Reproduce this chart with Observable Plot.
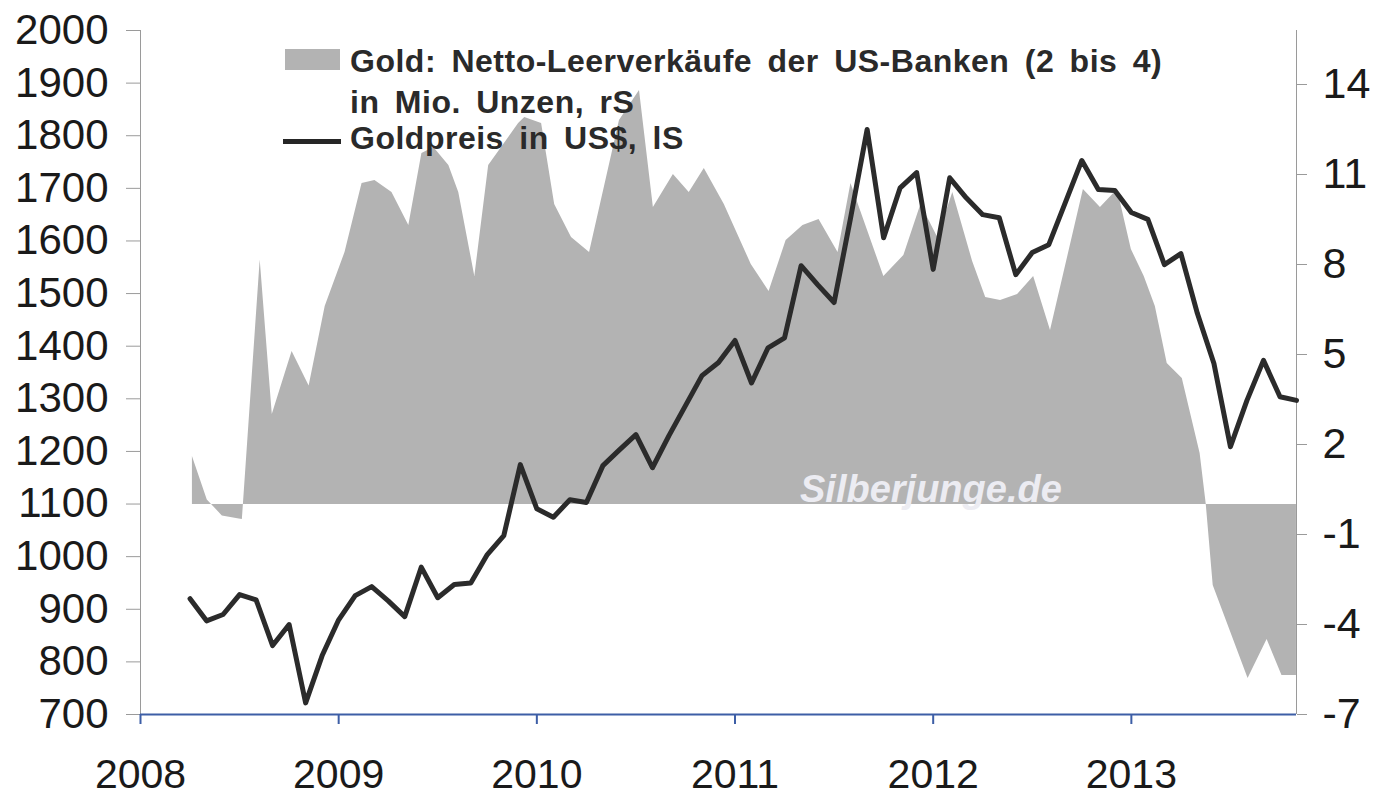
<!DOCTYPE html>
<html>
<head>
<meta charset="utf-8">
<script src="https://cdn.jsdelivr.net/npm/d3@7"></script>
<script src="https://cdn.jsdelivr.net/npm/@observablehq/plot@0.6"></script>
<style>
  body { margin: 0; background: #fff; }
  #wrap { position: relative; width: 1382px; height: 804px; font-family: "Liberation Sans", Arial, sans-serif; }
  .leg { position: absolute; left: 350px; font-weight: bold; font-size: 32px; letter-spacing: 0.5px; word-spacing: 6px; color: #2a2a2a; line-height: 40px; white-space: nowrap; }
  .sw-area { position: absolute; left: 285px; top: 49px; width: 55px; height: 21px; background: #b3b3b3; }
  .sw-line { position: absolute; left: 283px; top: 139px; width: 58px; height: 5px; background: #262626; }
  .wm { position: absolute; left: 800px; top: 470px; font-size: 38px; line-height: 38px; font-weight: bold; font-style: italic; color: #ececf2; white-space: nowrap; }
</style>
</head>
<body>
<div id="wrap"></div>
<script>
// ---- data ----
const priceMonths = [
  "2008-03","2008-04","2008-05","2008-06","2008-07","2008-08","2008-09","2008-10","2008-11","2008-12",
  "2009-01","2009-02","2009-03","2009-04","2009-05","2009-06","2009-07","2009-08","2009-09","2009-10","2009-11","2009-12",
  "2010-01","2010-02","2010-03","2010-04","2010-05","2010-06","2010-07","2010-08","2010-09","2010-10","2010-11","2010-12",
  "2011-01","2011-02","2011-03","2011-04","2011-05","2011-06","2011-07","2011-08","2011-09","2011-10","2011-11","2011-12",
  "2012-01","2012-02","2012-03","2012-04","2012-05","2012-06","2012-07","2012-08","2012-09","2012-10","2012-11","2012-12",
  "2013-01","2013-02","2013-03","2013-04","2013-05","2013-06","2013-07","2013-08","2013-09","2013-10"
];
const goldPrice = [
  920, 878, 890, 928, 918, 831, 871, 722, 812, 880,
  926, 943, 916, 886, 980, 922, 947, 950, 1004, 1040, 1175, 1091,
  1075, 1108, 1103, 1173, 1203, 1232, 1169, 1230, 1287, 1344, 1369, 1411,
  1330, 1397, 1416, 1553, 1517, 1483, 1644, 1812, 1606, 1701, 1730, 1546,
  1720, 1682, 1650, 1644, 1536, 1578, 1593, 1673, 1753, 1698, 1696, 1654,
  1641, 1555, 1576, 1462, 1367, 1209, 1297, 1373, 1304, 1297
];
const shortDates = [
  2008.262, 2008.337, 2008.413, 2008.498, 2008.514, 2008.604, 2008.665, 2008.765, 2008.851, 2008.932,
  2009.032, 2009.118, 2009.183, 2009.269, 2009.354, 2009.420, 2009.480, 2009.556, 2009.606, 2009.687, 2009.757, 2009.908, 2009.939,
  2010.024, 2010.090, 2010.175, 2010.266, 2010.417, 2010.518, 2010.588, 2010.689, 2010.769, 2010.845, 2010.946,
  2011.082, 2011.172, 2011.258, 2011.343, 2011.424, 2011.520, 2011.585, 2011.751, 2011.852, 2011.938,
  2012.023, 2012.099, 2012.199, 2012.265, 2012.340, 2012.426, 2012.507, 2012.592, 2012.758, 2012.844, 2012.930,
  2013.000, 2013.065, 2013.121, 2013.181, 2013.257, 2013.347, 2013.378, 2013.413, 2013.589, 2013.685, 2013.760, 2013.833
];
const shortValues = [
  1.6, 0.15, -0.38, -0.48, -0.5, 8.15, 3.0, 5.1, 3.95, 6.6,
  8.4, 10.7, 10.8, 10.4, 9.3, 11.7, 11.9, 11.3, 10.4, 7.6, 11.3, 12.7, 12.9,
  12.7, 10.0, 8.9, 8.4, 12.8, 13.8, 9.9, 11.0, 10.4, 11.2, 10.0,
  8.0, 7.1, 8.8, 9.3, 9.5, 8.4, 10.7, 7.6, 8.3, 10.0,
  8.9, 10.4, 8.1, 6.9, 6.8, 7.0, 7.6, 5.8, 10.5, 9.9, 10.5,
  8.5, 7.6, 6.6, 4.7, 4.2, 1.7, 0, -2.7, -5.8, -4.5, -5.7, -5.7
];
const leftTicks = [700, 800, 900, 1000, 1100, 1200, 1300, 1400, 1500, 1600, 1700, 1800, 1900, 2000];
const rightTicks = [-7, -4, -1, 2, 5, 8, 11, 14];
const yearTicks = [2008, 2009, 2010, 2011, 2012, 2013];
const legendLines = ["Gold: Netto-Leerverkäufe der US-Banken (2 bis 4)", "in Mio. Unzen, rS", "Goldpreis in US$, lS"];
const watermark = "Silberjunge.de";

// ---- scales ----
const leftDomain = [700, 2000];
const rightDomain = [-7, 15.8];
const toLeft = v => leftDomain[0] + (v - rightDomain[0]) * (leftDomain[1] - leftDomain[0]) / (rightDomain[1] - rightDomain[0]);
const fromLeft = L => rightDomain[0] + (L - leftDomain[0]) * (rightDomain[1] - rightDomain[0]) / (leftDomain[1] - leftDomain[0]);
const xMax = 2013 + 10 / 12;

const priceData = priceMonths.map((m, i) => ({x: +m.slice(0, 4) + (+m.slice(5)) / 12, price: goldPrice[i]}));
const shortData = shortDates.map((d, i) => ({x: d, v: shortValues[i]}));

const blue = "#3d5ea6";
const chart = Plot.plot({
  width: 1382, height: 804,
  marginLeft: 140, marginRight: 86, marginTop: 30, marginBottom: 90,
  style: {fontFamily: '"Liberation Sans", Arial, sans-serif', background: "transparent", overflow: "visible"},
  x: {type: "linear", domain: [2008, xMax]},
  y: {domain: leftDomain},
  marks: [
    Plot.areaY(shortData, {x: "x", y1: () => toLeft(0), y2: d => toLeft(d.v), fill: "#b3b3b3", curve: "linear"}),
    Plot.ruleX([2008], {stroke: "#9a9a9a", strokeWidth: 1}),
    Plot.ruleX([xMax], {stroke: "#9a9a9a", strokeWidth: 1}),
    Plot.line(priceData, {x: "x", y: "price", stroke: "#2b2b2b", strokeWidth: 5}),
    Plot.ruleY([700], {stroke: blue, strokeWidth: 2}),
    Plot.axisY({ticks: leftTicks, tickFormat: d => String(d), tickSize: 14, tickPadding: 18, fontSize: 42, stroke: "#9a9a9a", fill: "#1a1a1a", label: null}),
    Plot.axisY({anchor: "right", ticks: rightTicks.map(toLeft), tickFormat: d => String(Math.round(fromLeft(d))), tickSize: 10, tickPadding: 16, fontSize: 43, stroke: "#9a9a9a", fill: "#1a1a1a", label: null}),
    Plot.axisX({ticks: yearTicks, tickFormat: d => String(d), tickSize: 10, tickPadding: 34, fontSize: 41, stroke: blue, strokeWidth: 2, fill: "#1a1a1a", label: null})
  ]
});

const wrap = document.getElementById("wrap");
wrap.appendChild(chart);

const swA = document.createElement("div"); swA.className = "sw-area"; wrap.appendChild(swA);
const swL = document.createElement("div"); swL.className = "sw-line"; wrap.appendChild(swL);
const tops = [41, 82, 118];
legendLines.forEach((t, i) => {
  const d = document.createElement("div");
  d.className = "leg"; d.style.top = tops[i] + "px"; d.textContent = t;
  wrap.appendChild(d);
});
const wm = document.createElement("div"); wm.className = "wm"; wm.textContent = watermark; wrap.appendChild(wm);
</script>
</body>
</html>
